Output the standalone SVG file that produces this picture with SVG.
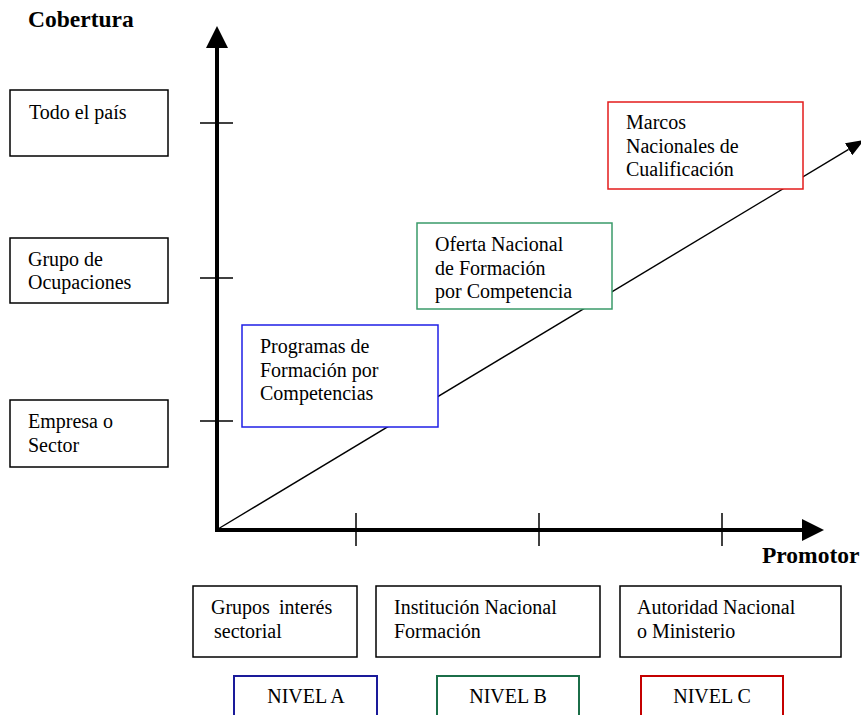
<svg xmlns="http://www.w3.org/2000/svg" width="861" height="715" viewBox="0 0 861 715">
  <style>
    text { font-family: "Liberation Serif", "Times New Roman", serif; font-size: 20px; fill: #000; }
    .title { font-weight: bold; font-size: 23.5px; }
    .box { fill: #fff; stroke: #000; stroke-width: 1.5; }
    .blue { stroke: #1f1fe6; }
    .green { stroke: #3a9a6a; }
    .red { stroke: #e31b1b; }
    .navy { stroke: #1a1a9a; stroke-width: 2; }
    .dgreen { stroke: #1b6e48; stroke-width: 2; }
    .dred { stroke: #c40000; stroke-width: 2; }
    .axis { stroke: #000; stroke-width: 4; fill: none; }
    .tick { stroke: #000; stroke-width: 1.5; }
    .trend { stroke: #000; stroke-width: 1.4; fill: none; }
    .mid { text-anchor: middle; }
  </style>
  <defs>
    <marker id="bigHead" markerUnits="userSpaceOnUse" markerWidth="22" markerHeight="22" viewBox="0 0 22 22" refX="0" refY="11" orient="auto">
      <path d="M0,0 L22,11 L0,22 z" fill="#000"/>
    </marker>
    <marker id="smallHead" markerUnits="userSpaceOnUse" markerWidth="18" markerHeight="14" viewBox="0 0 18 14" refX="0" refY="7" orient="auto">
      <path d="M0,0 L18,7 L0,14 z" fill="#000"/>
    </marker>
  </defs>

  <!-- axis titles -->
  <text class="title" x="28" y="27">Cobertura</text>
  <text class="title" x="762" y="563">Promotor</text>

  <!-- axes, ticks and trend line -->
  <g id="connectors">
    <line class="axis" x1="217" y1="532" x2="217" y2="48" marker-end="url(#bigHead)"/>
    <line class="axis" x1="215" y1="530" x2="802" y2="530" marker-end="url(#bigHead)"/>
    <line class="tick" x1="200" y1="123" x2="233" y2="123"/>
    <line class="tick" x1="200" y1="278" x2="233" y2="278"/>
    <line class="tick" x1="200" y1="421" x2="233" y2="421"/>
    <line class="tick" x1="356" y1="513" x2="356" y2="546"/>
    <line class="tick" x1="539" y1="513" x2="539" y2="546"/>
    <line class="tick" x1="722" y1="513" x2="722" y2="546"/>
    <line class="trend" x1="218" y1="529" x2="848.6" y2="149.3" marker-end="url(#smallHead)"/>
  </g>

  <!-- coverage levels -->
  <g id="todo-el-pais">
    <rect class="box" x="10" y="90" width="158" height="66"/>
    <text x="29" y="119">Todo el país</text>
  </g>
  <g id="grupo-ocupaciones">
    <rect class="box" x="10" y="238" width="158" height="65"/>
    <text x="28" y="266">Grupo de</text>
    <text x="28" y="289">Ocupaciones</text>
  </g>
  <g id="empresa-sector">
    <rect class="box" x="10" y="400" width="158" height="67"/>
    <text x="28" y="428">Empresa o</text>
    <text x="28" y="452">Sector</text>
  </g>

  <!-- instruments along the trend -->
  <g id="programas">
    <rect class="box blue" x="242" y="325" width="196" height="102"/>
    <text x="260" y="353">Programas de</text>
    <text x="260" y="377">Formación por</text>
    <text x="260" y="400">Competencias</text>
  </g>
  <g id="oferta">
    <rect class="box green" x="417" y="223" width="195" height="86"/>
    <text x="435" y="251">Oferta Nacional</text>
    <text x="435" y="275">de Formación</text>
    <text x="435" y="298">por Competencia</text>
  </g>
  <g id="marcos">
    <rect class="box red" x="608" y="102" width="195" height="87"/>
    <text x="626" y="129">Marcos</text>
    <text x="626" y="153">Nacionales de</text>
    <text x="626" y="176">Cualificación</text>
  </g>

  <!-- promoters -->
  <g id="grupos-interes">
    <rect class="box" x="193" y="586" width="164" height="71"/>
    <text x="211" y="614" word-spacing="4">Grupos interés</text>
    <text x="214" y="638">sectorial</text>
  </g>
  <g id="institucion">
    <rect class="box" x="376" y="586" width="224" height="71"/>
    <text x="394" y="614">Institución Nacional</text>
    <text x="394" y="638">Formación</text>
  </g>
  <g id="autoridad">
    <rect class="box" x="620" y="586" width="221" height="71"/>
    <text x="637" y="614">Autoridad Nacional</text>
    <text x="637" y="638">o Ministerio</text>
  </g>

  <!-- levels -->
  <g id="nivel-a">
    <rect class="box navy" x="234" y="676" width="143" height="50"/>
    <text class="mid" x="306" y="703">NIVEL A</text>
  </g>
  <g id="nivel-b">
    <rect class="box dgreen" x="437" y="676" width="142" height="50"/>
    <text class="mid" x="508" y="703">NIVEL B</text>
  </g>
  <g id="nivel-c">
    <rect class="box dred" x="641" y="676" width="142" height="50"/>
    <text class="mid" x="712" y="703">NIVEL C</text>
  </g>
</svg>
